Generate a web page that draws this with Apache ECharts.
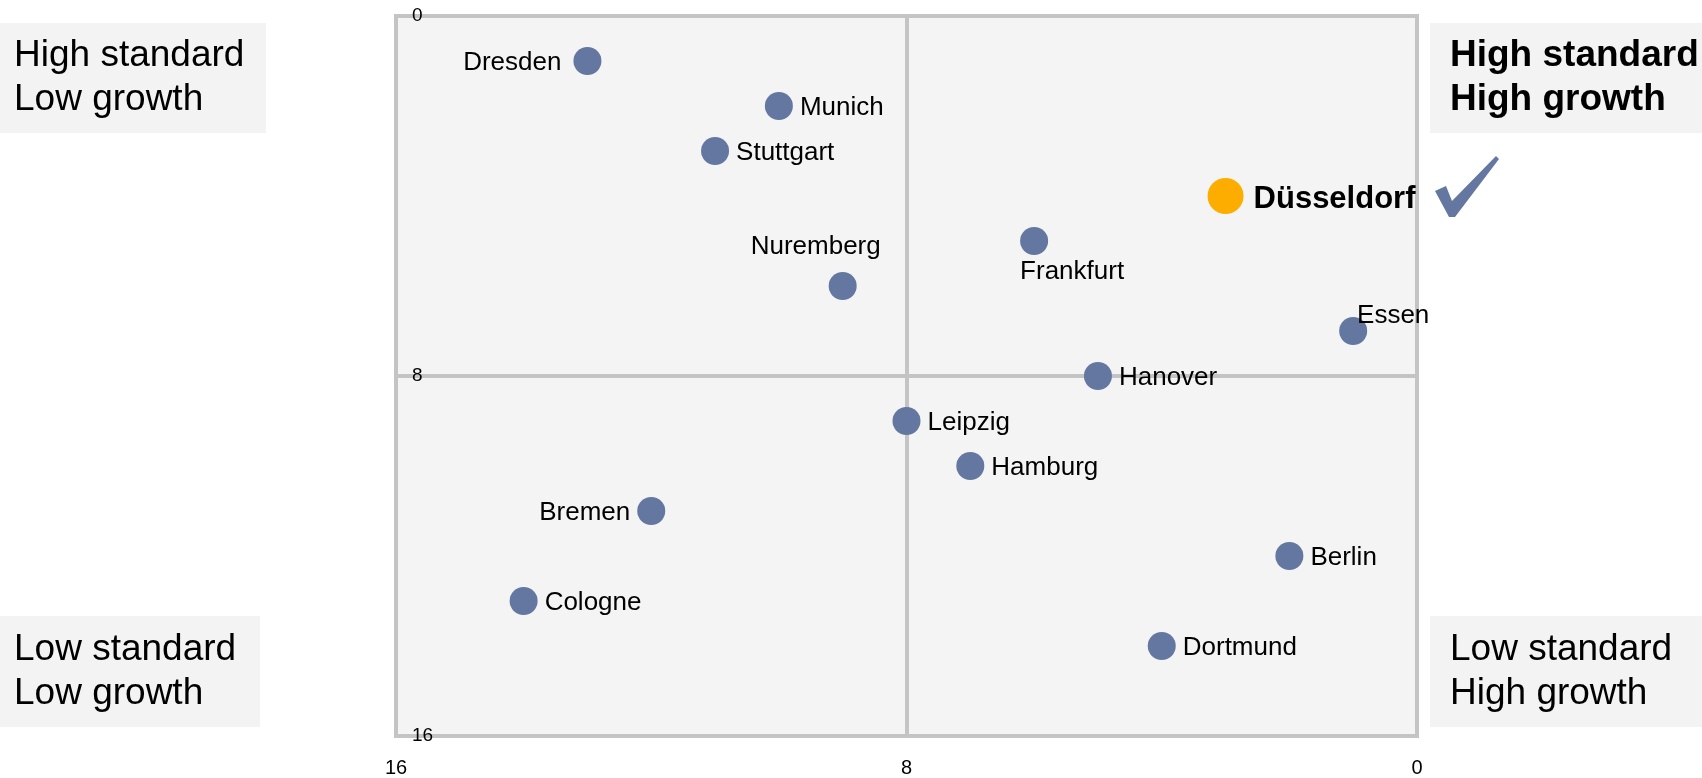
<!DOCTYPE html>
<html>
<head>
    <meta charset="utf-8">
    <title>City matrix</title>
    <script src="https://cdn.jsdelivr.net/npm/echarts@6/dist/echarts.min.js"></script>
    <style>
        body { margin: 0; background: #fff; }
    </style>
</head>

<body>
<div id="main" style="width: 1702px;height:778px;"></div>
<script type="text/javascript">
// growth rank (x, 0 = high growth on the right) and standard rank (y, 0 = high standard on top)
var cities   = ['Dresden','Munich','Stuttgart','Düsseldorf','Frankfurt','Nuremberg','Essen','Hanover','Leipzig','Hamburg','Bremen','Berlin','Cologne','Dortmund'];
var growth   = [13, 10, 11, 3, 6, 9, 1, 5, 8, 7, 12, 2, 14, 4];
var standard = [1, 2, 3, 4, 5, 6, 7, 8, 9, 10, 11, 12, 13, 14];
var highlight = 'Düsseldorf';
var axisTicks = [0, 8, 16];
var quadrants = [
    ['High standard', 'Low growth'],
    ['High standard', 'High growth'],
    ['Low standard', 'Low growth'],
    ['Low standard', 'High growth']
];

var FONT = '"Liberation Sans", Arial, sans-serif';
var BLUE = '#6377a0';

// where each city's label sits relative to its dot
var labelPos = {
    'Dresden':   { position: 'left',  distance: 12, offset: [0, 2] },
    'Bremen':    { position: 'left',  distance: 7, offset: [0, 2] },
    'Nuremberg': { position: 'top',   distance: 5, offset: [-27, -7] },
    'Frankfurt': { position: 'bottom', distance: 5, offset: [38, -1] },
    'Essen':     { position: 'top',   distance: 5, offset: [40, 17] }
};

var points = cities.map(function (c, i) {
    var lp = labelPos[c] || { position: 'right', distance: 7, offset: [0, 2] };
    var item = {
        name: c,
        value: [growth[i], standard[i]],
        label: { position: lp.position, distance: lp.distance, offset: lp.offset }
    };
    if (c === highlight) {
        item.symbolSize = 36;
        item.itemStyle = { color: '#fdad00' };
        item.label.fontWeight = 'bold';
        item.label.fontSize = 31;
        item.label.distance = 10;
        item.label.offset = [0, 3];
    }
    return item;
});

function box(x, y, w, h, lines, bold) {
    return {
        type: 'group',
        children: [
            { type: 'rect', shape: { x: x, y: y, width: w, height: h }, style: { fill: '#f3f3f3' } },
            { type: 'text', x: x + (x === 0 ? 14 : 20), y: y + h / 2,
              style: { text: lines.join('\n'), fill: '#000', font: (bold ? 'bold ' : '') + '37px ' + FONT,
                       lineHeight: 44, verticalAlign: 'middle', align: 'left' } }
        ]
    };
}

var myChart = echarts.init(document.getElementById('main'));
var option = {
    animation: false,
    backgroundColor: '#fff',
    grid: {
        left: 396, right: 285, top: 16, bottom: 42,
        show: true,
        backgroundColor: '#f4f4f4',
        borderColor: '#c4c4c4',
        borderWidth: 4
    },
    xAxis: {
        type: 'value',
        inverse: true,
        min: axisTicks[0], max: axisTicks[2], interval: axisTicks[1],
        axisLine: { show: false },
        axisTick: { show: false },
        axisLabel: { color: '#000', fontSize: 20, fontFamily: FONT, margin: 22 },
        splitLine: { lineStyle: { color: '#c4c4c4', width: 4 } }
    },
    yAxis: {
        type: 'value',
        inverse: true,
        min: axisTicks[0], max: axisTicks[2], interval: axisTicks[1],
        axisLine: { show: false },
        axisTick: { show: false },
        axisLabel: { inside: true, color: '#000', fontSize: 19, fontFamily: FONT, margin: 16 },
        splitLine: { lineStyle: { color: '#c4c4c4', width: 4 } }
    },
    series: [{
        type: 'scatter',
        symbolSize: 28,
        itemStyle: { color: BLUE, opacity: 1 },
        label: {
            show: true,
            formatter: '{b}',
            color: '#000',
            fontSize: 26,
            fontFamily: FONT
        },
        data: points
    }],
    graphic: [
        box(0, 23, 266, 110, quadrants[0], false),
        box(1430, 23, 272, 110, quadrants[1], true),
        box(0, 616, 260, 111, quadrants[2], false),
        box(1430, 616, 272, 111, quadrants[3], false),
        {
            type: 'polygon',
            shape: { points: [[1435, 191], [1446, 186], [1452, 201], [1496, 156], [1499, 159], [1455, 217], [1449, 217]] },
            style: { fill: BLUE }
        }
    ]
};
myChart.setOption(option);
</script>
</body>

</html>
